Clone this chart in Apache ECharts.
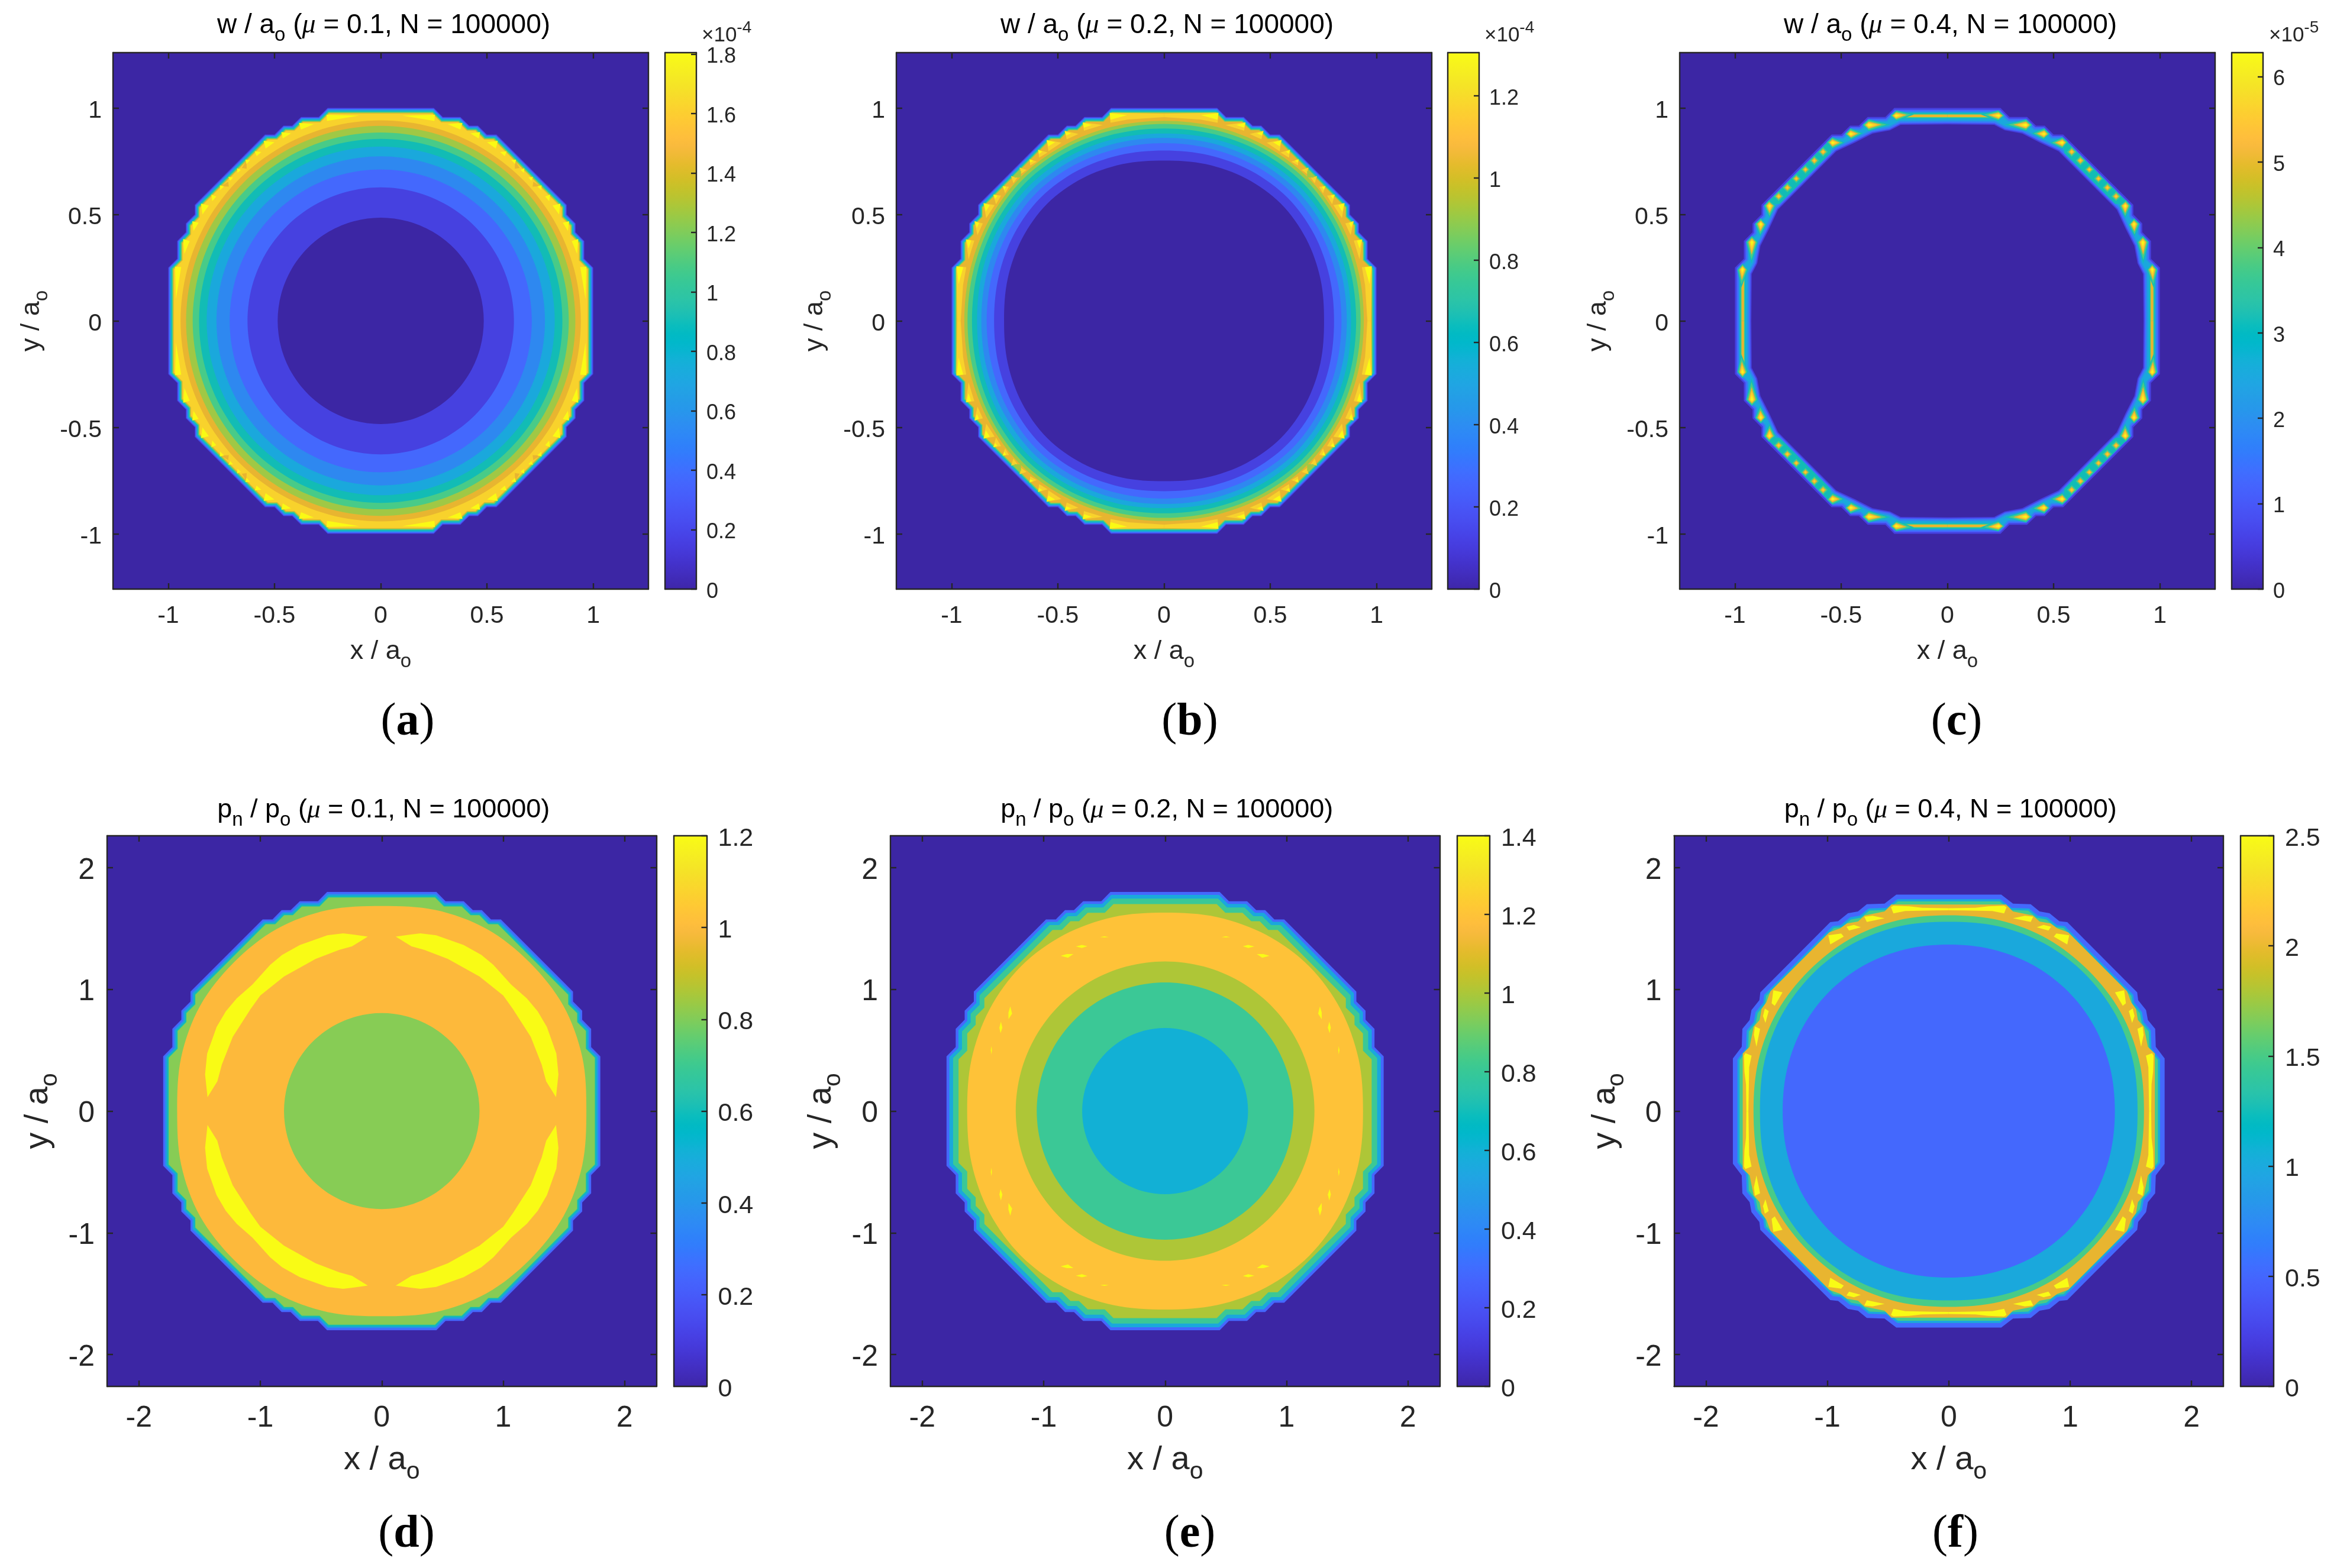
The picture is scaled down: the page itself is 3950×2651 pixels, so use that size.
<!DOCTYPE html>
<html><head><meta charset="utf-8">
<style>html,body{margin:0;padding:0;background:#fff}#c{width:3950px;height:2651px}</style>
<script src="https://cdn.jsdelivr.net/npm/echarts@6/dist/echarts.min.js"></script>
</head><body><div id="c"></div>
<script>
// ---------- tick labels and colourbar ranges ----------
const ticksTopPos = [-1, -0.5, 0, 0.5, 1];
const ticksBottomPos = [-2, -1, 0, 1, 2];
const cbTicksA = [0, 0.2, 0.4, 0.6, 0.8, 1, 1.2, 1.4, 1.6, 1.8];
const cbTicksB = [0, 0.2, 0.4, 0.6, 0.8, 1, 1.2];
const cbTicksC = [0, 1, 2, 3, 4, 5, 6];
const cbTicksD = [0, 0.2, 0.4, 0.6, 0.8, 1, 1.2];
const cbTicksE = [0, 0.2, 0.4, 0.6, 0.8, 1, 1.2, 1.4];
const cbTicksF = [0, 0.5, 1, 1.5, 2, 2.5];
const cbMax = [1.805, 1.305, 6.28, 1.2, 1.4, 2.5];
const muValues = ['0.1', '0.2', '0.4', '0.1', '0.2', '0.4'];
const panelLetters = ['a', 'b', 'c', 'd', 'e', 'f'];

// parula colormap
const parula = [[.2422,.1504,.6603],[.2504,.1650,.7076],[.2578,.1818,.7511],[.2647,.1978,.7952],[.2706,.2147,.8364],[.2751,.2342,.8710],[.2783,.2559,.8991],[.2803,.2782,.9221],[.2813,.3006,.9414],[.2810,.3228,.9579],[.2795,.3447,.9717],[.2760,.3667,.9829],[.2699,.3892,.9906],[.2602,.4123,.9952],[.2440,.4358,.9988],[.2206,.4603,.9973],[.1963,.4847,.9892],[.1834,.5074,.9798],[.1786,.5289,.9682],[.1764,.5499,.9520],[.1687,.5703,.9359],[.1540,.5902,.9218],[.1460,.6091,.9079],[.1380,.6276,.8973],[.1248,.6459,.8883],[.1113,.6635,.8763],[.0952,.6798,.8598],[.0689,.6948,.8394],[.0297,.7082,.8163],[.0036,.7203,.7917],[.0067,.7312,.7660],[.0433,.7411,.7394],[.0964,.7500,.7120],[.1408,.7584,.6842],[.1717,.7670,.6554],[.1938,.7758,.6251],[.2161,.7843,.5923],[.2470,.7918,.5567],[.2906,.7973,.5188],[.3406,.8008,.4789],[.3909,.8029,.4354],[.4456,.8024,.3909],[.5044,.7993,.3480],[.5616,.7942,.3045],[.6174,.7876,.2612],[.6720,.7793,.2227],[.7242,.7698,.1910],[.7738,.7598,.1646],[.8203,.7498,.1535],[.8634,.7406,.1596],[.9035,.7330,.1774],[.9393,.7288,.2100],[.9728,.7298,.2394],[.9956,.7434,.2371],[.9970,.7659,.2199],[.9952,.7893,.2028],[.9892,.8136,.1885],[.9786,.8386,.1766],[.9676,.8639,.1643],[.9610,.8890,.1537],[.9597,.9135,.1423],[.9628,.9373,.1265],[.9691,.9606,.1064],[.9769,.9839,.0805]];

// contour band colours
const P0='#3C26A4',P1='#4641E0',P2='#4468FD',P3='#2E88F0',P4='#1AA8DC',P5='#12BCB5',P6='#48CB88',P7='#A0C845',P8='#E8B530',P9='#F8D22C',P10='#FAFA14';

// ---------- contour geometry in data units (one octant, mirrored by the symmetry of the plate) ----------
const stairOutline = [[1,0],[1,.25],[.958,.292],[.958,.375],[.917,.417],[.917,.458],[.875,.5],[.875,.545]];

// (a) w, mu = 0.1
const aEdgeScales = [1,.9965,.993,.9895,.986,.9825,.979,.976,.973];
const aEdgeColors = [P1,P2,P3,P4,P5,P6,P7,P8,P9];
const aRingRadii = [.942,.916,.885,.855,.819,.773,.711,.627,.485];
const aRingColors = [P8,P7,P6,P5,P4,P3,P2,P1,P0];
const aYellow = [
 [[.255,.968],[.102,.964],[.253,.939]],
 [[.385,.93],[.315,.924],[.375,.899]],
 [[.468,.887],[.422,.881],[.461,.857]],
 [[.551,.846],[.5,.839],[.542,.809]],
 [[.593,.797],[.562,.793],[.584,.774]],
 [[.637,.757],[.614,.756],[.632,.737]],
 [[.676,.717],[.658,.709],[.674,.695]]];
const aOrange = [[[.718,.654],[.752,.632],[.715,.631]]];

// (b) w, mu = 0.2
const bEdgeScales = [1,.9965,.993,.9895,.986,.9825,.979,.976];
const bEdgeColors = [P1,P2,P3,P4,P5,P6,P7,P8];
const bRingRadii = [[.94,.944,.95,.955],[.925,.928,.935,.94],[.904,.908,.915,.92],[.88,.886,.893,.898],[.86,.864,.87,.875],[.835,.838,.845,.85],[.80,.806,.815,.82],[.753,.762,.772,.778]];
const bRingColors = [P7,P6,P5,P4,P3,P2,P1,P0];
const bGold = [
 [[.256,.978],[0,.973],[0,.957],[.169,.946],[.252,.931]],
 [[.383,.933],[.289,.92],[.377,.893]],
 [[.468,.893],[.403,.878],[.458,.853]],
 [[.553,.85],[.483,.837],[.544,.797]],
 [[.593,.804],[.548,.791],[.588,.767]],
 [[.633,.76],[.599,.748],[.63,.73]],
 [[.68,.72],[.647,.709],[.675,.689]]];
const bYellow = [
 [[.256,.976],[.173,.967],[.252,.945]],
 [[.383,.931],[.34,.92],[.377,.908]],
 [[.468,.89],[.437,.881],[.46,.871]],
 [[.553,.848],[.513,.839],[.544,.82]],
 [[.593,.802],[.573,.795],[.588,.784]],
 [[.633,.758],[.615,.752],[.63,.743]]];
const bGreen = [[[.715,.677],[.673,.705],[.674,.674]]];

// (c) w, mu = 0.4
const cEdgeScales = [1,.992,.985,.978];
const cEdgeColors = [P1,P2,P3,P4];
const cInner = [[.923,0],[.921,.22],[.895,.27],[.88,.352],[.838,.435],[.797,.523]];
const cInnerScales = [1.02,1.012,1.006,1];
const cInnerColors = [P3,P2,P1,P0];
const cTealDiag = [[.55,.853],[.853,.55],[.79,.55],[.55,.79]];
const cStripTeal = [[0,.978],[.24,.978],[.24,.95],[0,.95]];
const cStripGreen = [[0,.972],[.25,.972],[.25,.954],[0,.954]];
const cStripOrange = [[0,.969],[.24,.969],[.24,.957],[0,.957]];
const cSparkHeads = [[.243,.964],[.37,.92],[.456,.878],[.541,.837],[.585,.794],[.626,.753],[.668,.711]];
const cSparkShapes = [
 [[.265,.964],[.24,.985],[.171,.969],[.24,.943]],
 [[.395,.92],[.37,.943],[.287,.922],[.37,.896]],
 [[.478,.878],[.456,.901],[.407,.881],[.453,.856]],
 [[.564,.839],[.541,.859],[.493,.837],[.541,.813]],
 [[.607,.794],[.585,.816],[.563,.794],[.585,.772]],
 [[.648,.753],[.626,.775],[.604,.753],[.626,.731]],
 [[.688,.711],[.668,.731],[.648,.711],[.668,.691]]];
const cSparkLevels = [[1.2,P5],[1,P6],[.72,P8],[.5,P9],[.25,P10]];
const cDotLevels = [[1,P6],[.62,P8],[.3,P9]];

// (d) p, mu = 0.1
const dEdgeScales = [1,.991,.983,.975];
const dEdgeColors = [P2,'#2396E8',P5,'#87CC55'];
const dOrangeRadii = [1.685,1.71,1.728,1.725];
const dCrescent = [[.115,1.434],[.237,1.45],[.318,1.46],[.448,1.445],[.675,1.364],[.821,1.283],[.919,1.202],[1.065,1.04],[1.195,.926],[1.284,.82],[1.36,.691],[1.438,.472],[1.455,.301],[1.435,.114],[1.354,.244],[1.317,.382],[1.227,.61],[1.081,.837],[1.0,.95],[.805,1.105],[.545,1.25],[.351,1.324],[.245,1.353]];
const dCoreRadius = .805;

// (e) p, mu = 0.2
const eEdgeScales = [1,.987,.97,.945];
const eEdgeColors = [P2,P4,'#3BC896','#AEC637'];
const eOrangeRadii = [1.63,1.65,1.67,1.68];
const eSparks = [
 [[.465,1.43],[.5,1.436],[.535,1.43],[.5,1.426]],
 [[.64,1.355],[.685,1.365],[.735,1.352],[.685,1.34]],
 [[.755,1.29],[.81,1.29],[.86,1.275],[.8,1.26]]];
const eRingRadii = [1.23,1.057,.683];
const eRingColors = ['#AEC637','#3BC896','#12B0D5'];

// (f) p, mu = 0.4
const fOuter = [[1.778,0],[1.778,.432],[1.705,.529],[1.7,.675],[1.64,.748],[1.625,.83],[1.56,.911],[1.552,.976]];
const fEdgeScales = [1,.979,.969];
const fEdgeColors = [P2,P4,P6];
const fOrange = [[1.697,0],[1.697,.472],[1.64,.529],[1.607,.692],[1.558,.748],[1.542,.838],[1.502,.894],[1.469,.984]];
const fYellow = [
 [[.476,1.675],[.456,1.687],[.326,1.683],[.22,1.67],[0,1.667],[0,1.65],[.123,1.648],[.359,1.644],[.456,1.624]],
 [[.696,1.597],[.627,1.605],[.529,1.584],[.675,1.554]],
 [[.843,1.515],[.781,1.53],[.724,1.51],[.821,1.483]],
 [[.992,1.445],[.886,1.459],[.865,1.433],[.976,1.369]]];
const fRingRadii = [[1.608,1.622,1.632,1.63],[1.555,1.572,1.586,1.59],[1.368,1.376,1.386,1.39]];
const fRingColors = [P6,P4,P2];

// ---------- polygon helpers ----------
function dedupe(a){const o=[];a.forEach(p=>{const l=o[o.length-1];if(!l||Math.hypot(l[0]-p[0],l[1]-p[1])>1e-6)o.push(p)});
  const f=o[0],l=o[o.length-1];if(o.length>1&&Math.hypot(f[0]-l[0],f[1]-l[1])<1e-6)o.pop();return o;}
function fromOctant(pts){
  const q=[...pts,...pts.slice().reverse().map(([x,y])=>[y,x])];
  return dedupe([...q,...q.slice().reverse().map(([x,y])=>[-x,y]),...q.map(([x,y])=>[-x,-y]),...q.slice().reverse().map(([x,y])=>[x,-y])]);
}
function radial(r){const rr=typeof r==='number'?[r,r,r,r]:r;const st=Math.PI/4/(rr.length-1);
  return rr.map((v,i)=>[v*Math.cos(i*st),v*Math.sin(i*st)]);}
const scalePts=(pts,s)=>pts.map(([x,y])=>[x*s,y*s]);
const stair=(base,s,color)=>({points:fromOctant(scalePts(base,s)),color});
const ring=(r,color)=>({points:fromOctant(radial(r)),color,smooth:.33});
const SYM8=[[1,1,0],[-1,1,0],[1,-1,0],[-1,-1,0],[1,1,1],[-1,1,1],[1,-1,1],[-1,-1,1]];
const SYM4=SYM8.slice(0,4);
function patch(pts,color,sym){return (sym||SYM8).map(([a,b,sw])=>({color,points:pts.map(([x,y])=>sw?[a*y,b*x]:[a*x,b*y])}));}
const patches=(list,color,sym)=>list.flatMap(p=>patch(p,color,sym));
function nested(heads,shapes,levels){const o=[];levels.forEach(([f,col])=>shapes.forEach((sh,i)=>{const h=heads[i];
  o.push(...patch(sh.map(([x,y])=>[h[0]+(x-h[0])*f,h[1]+(y-h[1])*f]),col));}));return o;}
const edges=(base,scales,colors)=>scales.map((s,i)=>stair(base,s,colors[i]));

const stairD=scalePts(stairOutline,1.8);

const layersA=[...edges(stairOutline,aEdgeScales,aEdgeColors),...patches(aOrange,P8),...patches(aYellow,P10),...aRingRadii.map((r,i)=>ring(r,aRingColors[i]))];
const layersB=[...edges(stairOutline,bEdgeScales,bEdgeColors),...patches(bGold,P9),...patches(bYellow,P10),...patches(bGreen,P7),...bRingRadii.map((r,i)=>ring(r,bRingColors[i]))];
const layersC=[...edges(stairOutline,cEdgeScales,cEdgeColors),...cInnerScales.map((s,i)=>stair(cInner,s,cInnerColors[i])),...patch(cTealDiag,P5),
  ...patch(cStripTeal,P5),...patch(cStripGreen,P6),...patch(cStripOrange,P8),
  ...nested(cSparkHeads.slice(0,4),cSparkShapes.slice(0,4),cSparkLevels),...nested(cSparkHeads.slice(4),cSparkShapes.slice(4),cDotLevels)];
const layersD=[...edges(stairD,dEdgeScales,dEdgeColors),ring(dOrangeRadii,'#FDB93B'),...patch(dCrescent,'#F9FB15',SYM4),ring(dCoreRadius,'#87CC55')];
const layersE=[...edges(stairD,eEdgeScales,eEdgeColors),ring(eOrangeRadii,'#FEC238'),...patches(eSparks,'#F9FB15'),...eRingRadii.map((r,i)=>ring(r,eRingColors[i]))];
const layersF=[...edges(fOuter,fEdgeScales,fEdgeColors),stair(fOrange,1,P8),...patches(fYellow,'#F9FB15'),...fRingRadii.map((r,i)=>ring(r,fRingColors[i]))];

// ---------- layout ----------
const TOP={y:89,h:907}, BOT={y:1413,h:931};
const panels=[
 {x:191,w:905,cx:1124,cw:53,row:TOP,layers:layersA,cb:cbTicksA,exp:'-4',expX:1181},
 {x:1515,w:905,cx:2447,cw:53,row:TOP,layers:layersB,cb:cbTicksB,exp:'-4',expX:2504},
 {x:2839,w:905,cx:3772,cw:53,row:TOP,layers:layersC,cb:cbTicksC,exp:'-5',expX:3830},
 {x:181,w:928.5,cx:1139,cw:55.5,row:BOT,layers:layersD,cb:cbTicksD},
 {x:1505,w:928.5,cx:2463,cw:55,row:BOT,layers:layersE,cb:cbTicksE},
 {x:2829.6,w:928.4,cx:3787,cw:56,row:BOT,layers:layersF,cb:cbTicksF}];
const labelCenters=[[684,1217],[2006,1217],[3302,1217],[682,2590],[2006,2590],[3300,2590]];

const INK='#262626', SANS='"Liberation Sans",Arial,sans-serif', SERIF='"Liberation Serif",serif';
const grid=[],xAxis=[],yAxis=[],series=[],title=[];
const fmt=v=>String(v);
const shifted=v=>`{t|${v}}`;
const shiftRich=(fs)=>({t:{fontSize:fs,fontFamily:SANS,color:INK,padding:[10,0,0,0]}});
const subRich=(fs,sub,lh)=>({n:{fontSize:fs,fontFamily:SANS,fontWeight:'normal',color:INK,lineHeight:lh},s:{fontSize:sub,fontFamily:SANS,fontWeight:'normal',color:INK,lineHeight:sub,verticalAlign:'bottom'}});

panels.forEach((p,i)=>{
  const top=i<3, lim=top?1.26:2.262, ticks=top?ticksTopPos:ticksBottomPos;
  const fs=top?41:50, cbFs=top?36:43, nameFs=top?45:56, subFs=top?33:41;
  // main plot
  const g=grid.length;
  grid.push({show:true,outerBoundsMode:'none',left:p.x,top:p.row.y,width:p.w,height:p.row.h,backgroundColor:P0,borderWidth:0,containLabel:false});
  const line={show:true,onZero:false,lineStyle:{color:INK,width:2.4}};
  const tick=()=>({show:true,inside:true,length:10,customValues:ticks,lineStyle:{color:INK,width:2.4}});
  const xi=xAxis.length, yi=yAxis.length;
  const rich=subRich(nameFs,subFs,top?66:80);
  xAxis.push({gridIndex:g,type:'value',min:-lim,max:lim,position:'bottom',z:10,axisLine:line,axisTick:tick(),splitLine:{show:false},
    axisLabel:{customValues:ticks,formatter:fmt,fontSize:fs,fontFamily:SANS,color:INK,margin:top?25:29},
    name:'{n|x / a}{s|o}',nameLocation:'middle',nameGap:top?73:85,nameTextStyle:{rich}});
  xAxis.push({gridIndex:g,type:'value',min:-lim,max:lim,position:'top',z:10,axisLine:line,axisTick:tick(),axisLabel:{show:false},splitLine:{show:false}});
  yAxis.push({gridIndex:g,type:'value',min:-lim,max:lim,position:'left',z:10,axisLine:line,axisTick:tick(),splitLine:{show:false},
    axisLabel:{customValues:ticks,formatter:shifted,rich:shiftRich(fs),fontSize:fs,fontFamily:SANS,color:INK,margin:top?19:21},
    name:'{n|y / a}{s|o}',nameLocation:'middle',nameRotate:90,nameGap:top?104:76,nameTextStyle:{rich}});
  yAxis.push({gridIndex:g,type:'value',min:-lim,max:lim,position:'right',z:10,axisLine:line,axisTick:tick(),axisLabel:{show:false},splitLine:{show:false}});
  const layers=p.layers;
  series.push({type:'custom',coordinateSystem:'cartesian2d',xAxisIndex:xi,yAxisIndex:yi,silent:true,clip:true,z:2,
    data:layers.map((l,k)=>[0,0,k]),encode:{x:0,y:1},
    renderItem:(params,api)=>{const l=layers[params.dataIndex];
      return {type:'polygon',silent:true,shape:{points:l.points.map(q=>api.coord(q)),smooth:l.smooth||0},style:{fill:l.color}};}});
  // colourbar
  const gc=grid.length, max=cbMax[i];
  grid.push({show:false,outerBoundsMode:'none',left:p.cx,top:p.row.y,width:p.cw,height:p.row.h});
  const cxi=xAxis.length, cyi=yAxis.length;
  const plain={show:true,onZero:false,lineStyle:{color:INK,width:2.4}};
  xAxis.push({gridIndex:gc,type:'value',min:0,max:1,position:'bottom',z:10,axisLine:plain,axisTick:{show:false},axisLabel:{show:false},splitLine:{show:false}});
  xAxis.push({gridIndex:gc,type:'value',min:0,max:1,position:'top',z:10,axisLine:plain,axisTick:{show:false},axisLabel:{show:false},splitLine:{show:false}});
  yAxis.push({gridIndex:gc,type:'value',min:0,max:max,position:'right',z:10,axisLine:plain,splitLine:{show:false},
    axisTick:{show:true,inside:true,length:9,customValues:p.cb,lineStyle:{color:INK,width:2.4}},
    axisLabel:{customValues:p.cb,formatter:shifted,rich:shiftRich(cbFs),fontSize:cbFs,fontFamily:SANS,color:INK,margin:top?17:19}});
  yAxis.push({gridIndex:gc,type:'value',min:0,max:max,position:'left',z:10,axisLine:plain,axisTick:{show:false},axisLabel:{show:false},splitLine:{show:false}});
  const stops=parula.map((c,k)=>({offset:k/(parula.length-1),color:`rgb(${c.map(v=>Math.round(v*255)).join(',')})`}));
  series.push({type:'custom',coordinateSystem:'cartesian2d',xAxisIndex:cxi,yAxisIndex:cyi,silent:true,z:2,
    data:[[0,0,1,max]],encode:{x:[0,2],y:[1,3]},
    renderItem:(params,api)=>{const a=api.coord([0,0]),b=api.coord([1,max]);
      return {type:'rect',silent:true,shape:{x:a[0],y:b[1],width:b[0]-a[0],height:a[1]-b[1]},
        style:{fill:new echarts.graphic.LinearGradient(0,1,0,0,stops)}};}});
  // plot title
  const tfs=top?46:45, head=top?'{n|w / a}{s|o}':'{n|p}{s|n}{n| / p}{s|o}';
  title.push({left:p.x+p.w/2-(top?0:2),top:top?5:1332,textAlign:'center',text:`${head}{n| (}{m|\u03BC}{n| = ${muValues[i]}, N = 100000)}`,
    textStyle:{fontWeight:'normal',rich:{n:{fontSize:tfs,fontFamily:SANS,fontWeight:'normal',color:'#000',lineHeight:66},s:{fontSize:33,fontFamily:SANS,fontWeight:'normal',color:'#000',lineHeight:33,verticalAlign:'bottom'},m:{fontSize:tfs,fontFamily:SERIF,fontStyle:'italic',fontWeight:'normal',color:'#000',lineHeight:66}}}});
  // panel letter
  const lc=labelCenters[i];
  title.push({left:lc[0],top:lc[1]-50,textAlign:'center',text:`{p|(}{b|${panelLetters[i]}}{p|)}`,
    textStyle:{fontWeight:'normal',rich:{p:{fontSize:78,fontFamily:SERIF,fontWeight:'normal',color:'#000',lineHeight:100},b:{fontSize:78,fontFamily:SERIF,fontWeight:'bold',color:'#000',lineHeight:100}}}});
  // colourbar exponent
  if(p.exp) title.push({left:p.expX,top:28,text:`{n|\u00D710}{e|${p.exp}}`,
    textStyle:{fontWeight:'normal',rich:{n:{fontSize:35,fontFamily:SANS,fontWeight:'normal',color:INK,lineHeight:54},e:{fontSize:28,fontFamily:SANS,fontWeight:'normal',color:INK,lineHeight:28,verticalAlign:'top'}}}});
});

const chart=echarts.init(document.getElementById('c'),null,{renderer:'canvas',width:3950,height:2651});
chart.setOption({animation:false,backgroundColor:'#fff',title,grid,xAxis,yAxis,series});
</script></body></html>
